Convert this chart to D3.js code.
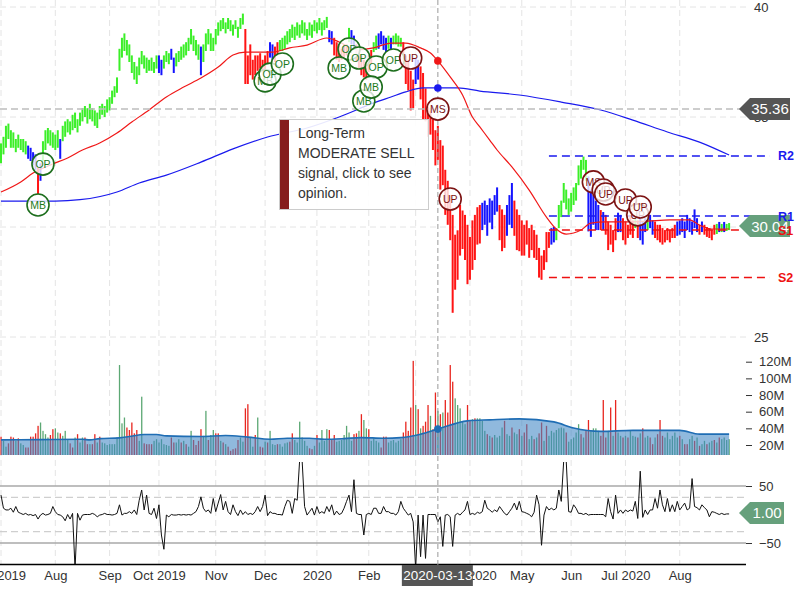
<!DOCTYPE html>
<html><head><meta charset="utf-8">
<script src="https://cdnjs.cloudflare.com/ajax/libs/d3/7.8.5/d3.min.js"></script>
<style>html,body{margin:0;padding:0;background:#fff;} svg{display:block;font-family:"Liberation Sans",Arial,sans-serif;}</style>
</head><body><svg id="c" width="800" height="600"></svg>
<script>
const startDate = "2019-07-01", endDate = "2020-08-31";
const holidays = ["2019-07-04","2019-09-02","2019-11-28","2019-12-25","2020-01-01","2020-01-20","2020-02-17","2020-04-10","2020-05-25","2020-07-03"];
const monthLabels = ["Jul 2019","Aug","Sep","Oct 2019","Nov","Dec","2020","Feb","Mar","Apr 2020","May","Jun","Jul 2020","Aug"];
const priceTicks = [25,30,35,40];
const volumeTicks = [20,40,60,80,100,120];
const oscTicks = [-50,50];

const priceHigh = [
33.8,34.1,34.6,34.7,34.4,34.3,34.0,34.2,34.0,34.0,
33.9,33.7,33.6,33.4,33.3,32.7,32.9,33.9,34.4,34.5,
34.4,34.3,34.2,34.4,34.0,34.6,34.8,34.9,34.8,35.1,
35.2,34.9,35.2,35.4,35.5,35.4,35.6,35.4,35.3,35.2,
35.5,35.6,35.5,35.8,35.9,36.2,36.4,36.8,38.1,38.6,
38.8,38.5,38.3,37.8,37.5,37.3,37.7,38.0,37.8,37.7,
37.6,37.7,37.5,37.8,37.8,37.6,37.8,38.0,37.9,38.1,
37.7,37.9,38.0,38.2,38.3,38.4,38.6,39.0,38.7,38.5,
38.3,38.2,38.3,38.8,39.0,38.8,38.6,39.0,39.3,39.4,
39.5,39.3,39.5,39.4,39.2,39.4,39.1,39.5,39.7,39.0,
37.8,38.3,37.6,37.8,37.8,37.9,37.6,37.8,38.0,38.4,
38.3,38.2,38.4,38.5,38.6,38.7,38.9,39.0,39.2,39.1,
39.3,39.2,39.4,39.3,39.0,39.3,39.2,39.4,39.3,39.5,
39.3,39.4,39.55,38.95,38.9,38.6,38.4,38.3,38.1,38.3,
38.3,39.05,38.95,38.7,38.3,38.05,37.8,37.6,37.5,37.8,
38.05,38.4,38.7,38.8,38.9,38.7,38.6,38.7,38.6,38.7,
38.8,38.7,38.6,38.4,37.8,37.6,37.1,36.7,37.7,37.6,
37.3,37.0,36.3,35.45,35.3,34.9,34.4,34.6,33.95,33.7,
32.6,32.1,31.45,30.55,29.65,29.85,31.0,30.75,30.55,30.1,
29.55,30.3,30.55,30.9,31.0,31.1,31.2,31.0,31.3,31.2,
31.45,31.8,31.0,30.8,30.55,31.0,31.45,32.0,31.2,30.8,
30.55,30.3,30.1,30.3,29.95,30.1,29.86,29.65,29.05,28.7,
28.95,29.77,29.77,29.95,30.0,29.95,31.0,31.2,32.0,31.7,
31.3,31.55,31.8,32.0,32.8,33.05,33.2,33.05,32.3,31.7,
31.45,31.2,31.0,30.77,30.68,30.55,30.25,30.1,29.86,30.4,
30.65,30.55,30.4,30.25,30.1,30.55,30.3,30.65,30.3,30.4,
30.25,30.4,30.55,30.55,30.3,30.25,30.1,30.1,29.95,29.86,
29.95,29.86,29.95,30.1,30.25,30.3,30.4,30.25,30.55,30.4,
30.25,30.8,30.4,30.1,30.25,30.1,30.0,29.95,29.86,30.1,
30.14,30.23,30.14,30.23,30.14,30.18];
const priceLow = [
32.9,33.3,33.6,34.0,33.6,33.6,33.4,33.6,33.5,33.4,
33.3,33.1,33.0,32.8,32.6,31.5,32.1,33.0,33.5,33.8,
33.7,33.6,33.5,33.6,33.1,33.9,34.1,34.3,34.2,34.4,
34.5,34.3,34.6,34.8,35.0,34.7,34.9,34.8,34.6,34.5,
34.9,35.1,35.0,35.2,35.3,35.6,35.9,36.1,37.1,37.7,
38.0,37.8,37.5,37.0,36.7,36.5,36.9,37.4,37.2,37.0,
37.1,37.1,37.0,37.2,37.0,36.9,37.2,37.5,37.4,37.6,
37.0,37.3,37.5,37.6,37.7,37.8,38.0,38.3,38.0,37.8,
37.6,36.9,37.5,38.0,38.3,38.0,38.0,38.3,38.7,38.9,
39.0,38.8,39.0,38.9,38.7,39.0,38.6,39.0,39.2,36.5,
36.5,36.9,36.7,36.9,37.1,37.2,36.9,37.1,37.4,37.7,
37.6,37.5,37.8,38.0,38.0,38.1,38.3,38.4,38.6,38.5,
38.7,38.6,38.8,38.7,38.5,38.7,38.6,38.9,38.8,38.95,
38.7,38.95,39.05,38.4,38.3,37.8,37.6,37.5,37.6,37.7,
37.8,38.4,38.3,38.1,37.5,37.2,36.9,36.8,36.7,37.05,
37.4,37.95,38.05,38.1,38.3,38.05,37.95,38.1,38.05,38.3,
38.3,38.2,38.2,37.4,36.5,36.2,35.3,35.4,36.5,36.7,
35.8,34.9,34.8,34.1,34.2,33.5,32.8,33.05,31.7,31.9,
30.55,30.1,29.4,26.1,27.15,27.6,28.7,29.0,28.5,27.4,
27.6,28.05,28.5,29.2,29.25,29.86,30.1,29.6,30.2,29.9,
30.55,30.7,29.4,28.9,29.05,29.6,30.1,29.95,29.6,28.95,
28.9,28.7,28.7,29.2,28.6,28.95,28.6,28.5,27.7,27.6,
28.05,28.4,29.05,29.2,29.3,29.4,29.95,30.45,31.1,30.8,
30.55,30.7,31.0,31.2,31.9,32.2,32.6,32.1,29.8,29.55,
30.1,29.86,29.86,29.86,29.86,29.65,28.95,29.2,28.86,29.4,
29.77,29.77,29.4,29.2,29.5,29.65,29.5,29.95,29.5,29.4,
29.2,29.77,29.86,29.95,29.65,29.5,29.4,29.3,29.2,29.3,
29.4,29.3,29.5,29.5,29.6,29.65,29.77,29.5,29.86,29.77,
29.65,29.95,29.77,29.65,29.77,29.65,29.55,29.5,29.4,29.65,
29.68,29.77,29.77,29.77,29.82,29.86];
const barColorRuns = [["g",11],["b",4],["r",1],["b",1],["g",7],["b",1],["g",39],["b",2],["g",3],["b",2],["g",10],["b",1],["g",17],["r",10],["b",2],["r",2],["g",20],["b",2],["r",6],["g",1],["b",2],["r",7],["g",2],["b",4],["g",1],["b",1],["g",4],["r",5],["b",2],["r",25],["b",7],["r",3],["b",3],["r",15],["b",2],["g",13],["b",5],["r",1],["b",1],["r",5],["b",2],["r",5],["g",1],["r",1],["b",3],["g",1],["b",2],["r",9],["b",9],["r",1],["b",1],["r",5],["g",1],["b",1],["g",1],["b",1],["g",2]];

const redMA = [[0,31.59],[8,32.05],[13,32.45],[20,32.82],[27,33.14],[33,33.5],[40,33.82],[47,34.27],[53,34.77],[60,35.32],[67,35.91],[74,36.36],[81,36.77],[88,37.27],[94,37.82],[99,37.95],[110,37.95],[117,38.14],[124,38.27],[132,38.59],[137,38.41],[144,38.05],[151,38.14],[158,38.36],[164,38.36],[170,38.14],[174,37.91],[177,37.55],[182,36.82],[187,36.0],[191,35.0],[194,34.55],[198,33.95],[201,33.5],[207,32.73],[214,31.68],[221,30.45],[225,29.91],[229,29.68],[235,29.86],[239,30.18],[245,30.23],[252,30.23],[262,30.27],[271,30.32],[279,30.32],[283,30.09],[288,29.91],[295,29.91]];
const blueMA = [[0,31.18],[22,31.18],[32,31.24],[47,31.59],[56,32.0],[67,32.36],[81,32.95],[94,33.55],[108,34.09],[124,34.5],[137,35.0],[151,35.64],[158,35.91],[164,36.14],[171,36.32],[177,36.32],[185,36.32],[194,36.18],[210,36.0],[227,35.68],[243,35.32],[256,34.86],[270,34.32],[283,33.86],[295,33.27]];

const volume = [
30,25,18,22,30,29,25,28,22,20,
17,17,30,30,34,43,47,37,33,29,
32,39,40,35,34,31,37,27,22,17,
29,33,23,29,29,21,21,21,33,23,
30,23,22,20,21,21,21,29,116,46,
53,41,38,47,34,38,25,78,22,21,
21,21,25,27,23,27,21,20,19,29,
23,23,27,23,25,21,18,37,26,20,
25,39,31,61,26,32,38,34,34,25,
23,21,18,13,15,16,26,29,24,64,
69,29,18,32,53,18,17,24,23,37,
21,20,21,21,18,22,23,24,34,26,
23,48,29,25,19,16,15,19,32,23,
38,25,39,38,26,32,24,25,26,32,
43,35,25,33,34,37,57,50,40,39,
25,28,25,23,17,30,30,23,25,26,23,25,
27,35,48,37,65,121,68,63,40,43,
48,68,55,39,83,61,57,59,74,59,
116,96,76,68,64,48,45,68,49,51,
52,52,52,49,37,33,31,29,32,29,
31,41,49,33,31,41,35,33,39,31,
35,45,27,31,27,29,34,47,25,43,
31,37,35,38,40,41,40,35,24,27,
29,35,45,33,29,37,50,37,40,40,
37,31,74,29,37,65,31,74,35,31,
29,31,29,37,31,30,29,34,40,29,
31,29,21,29,33,50,31,29,35,27,
31,35,29,31,27,21,21,27,31,25,
29,19,21,25,21,23,25,26,23,29,
27,29,26,27];
const volumeColor = "rggrrrgrgg"+"rrrrrrgggg"+"rrggrgggrr"+"grggrrgrrg"+"rggggggggg"+"grrrrrggrr"+"rrgggggggr"+"rggrgrggrr"+"rrggrggrrg"+"rgrrrrrggr"+"rggrgrrgrg"+"ggrggggrrg"+"gggggrrgrg"+"gggrrrgggg"+"gggrrgrggr"+"ggggrrrggggg"+"grrrrrgrgr"+"rrgrrgrgrr"+"rrgggggrrg"+"rggggrgrgg"+"ggrggrggrg"+"rrggrgrrgr"+"gggggggrgg"+"gggrgrrggg"+"grrrgrgrgg"+"rgrgggrgrg"+"grrgrrrggg"+"gggrgrrggr"+"grggrggrgr"+"gggg";
const volumeMA = [[0,26.1],[16,26.5],[33,26.9],[36,26.1],[40,27.7],[48,28.5],[52,30.2],[58,32.6],[63,32.6],[67,31.0],[81,30.2],[91,31.4],[100,29.4],[109,26.9],[116,28.1],[125,28.1],[131,26.9],[139,27.7],[146,28.9],[155,28.1],[162,28.9],[170,33.0],[177,39.1],[189,49.0],[198,50.2],[210,51.4],[224,47.8],[232,40.3],[243,36.3],[256,37.5],[275,37.5],[283,33.0],[295,33.0]];

const oscillator = [
34,11,8,8,11,4,14,4,2,0,
2,-1,0,-2,0,-8,-1,2,-1,0,
2,14,5,0,-1,-4,-11,0,-8,2,
-95,2,-10,-1,0,0,0,2,0,-4,
-1,0,2,0,0,-1,0,2,17,-1,
2,2,5,2,8,0,25,43,8,34,
2,0,11,-7,17,-36,-61,-1,-4,0,
-1,-1,0,-1,0,-1,0,-1,2,5,
14,31,11,5,8,2,28,5,20,35,
8,23,5,0,17,5,-2,8,0,5,
0,2,0,5,14,5,14,34,-2,5,
2,2,0,0,-1,14,25,23,2,28,
25,95,95,14,-1,5,11,-1,14,2,
5,2,14,5,17,-1,6,0,2,11,
23,34,5,61,2,0,0,-36,0,2,
0,11,11,2,2,14,5,5,2,2,-1,5,
23,11,5,-1,2,-13,-95,-1,-74,-1,
-77,0,0,0,0,-13,-4,-56,-1,0,
-4,-56,-1,2,-1,4,8,23,0,2,
0,4,2,5,25,11,8,4,8,5,
14,8,2,-1,5,11,20,8,23,5,
4,2,0,-4,4,34,17,-54,-1,14,
8,11,8,11,43,23,95,95,5,4,
17,11,2,2,0,2,-1,0,0,0,
0,0,0,-4,28,5,-8,34,2,8,
2,8,5,8,6,23,-7,76,-5,8,
0,8,8,28,11,43,17,5,28,5,
17,5,23,8,14,20,8,11,63,14,
12,8,17,12,8,-4,5,4,2,0,
2,0,1,1];

const markerIdx   = [15,17,107,109,114,141,137,145,152,147,150,159,166,177,182,240,244,245,253,258,259];
const markerPrice = [31.0,32.86,36.64,36.95,37.41,38.09,37.23,37.68,37.27,35.73,36.36,37.59,37.68,35.36,31.27,32.05,31.68,31.5,31.23,30.55,30.91];
const markerText  = ["MB","OP","MB","OP","OP","OP","MB","OP","OP","MB","MB","OP","UP","MS","UP","MS","UP","UP","UP","UP","UP"];

const levelNames = ["R2","R1","S1","S2"];
const levelValues = [33.23,30.5,29.86,27.7];
const levelStart = 222;
const lastPrice = 30.04, refPrice = 35.36, lastOsc = 1.00;
const crossIdx = 177;
const tooltipLines = ["Long-Term","MODERATE SELL","signal, click to see","opinion."];

// ---------- build ----------
const parse = d3.utcParse("%Y-%m-%d"), fmt = d3.utcFormat("%Y-%m-%d");
const days = d3.utcDays(parse(startDate), d3.utcDay.offset(parse(endDate),1))
  .filter(d => d.getUTCDay()%6 !== 0 && !holidays.includes(fmt(d)));
const N = priceHigh.length;
const monthStarts = days.map((d,i)=>i).filter(i => i===0 || days[i].getUTCMonth()!==days[i-1].getUTCMonth());

const barColors = [];
barColorRuns.forEach(([c,n]) => { for (let k=0;k<n;k++) barColors.push(c); });
const colBar = {g:"#3bef28", b:"#1414ff", r:"#ff1414"};

const svg = d3.select("#c");
const PR = 746;
const xs = d3.scaleLinear().domain([0,295]).range([1,729.1]);
const yp = d3.scaleLinear().domain([25,40]).range([337,7]);
const yv = d3.scaleLinear().domain([20,120]).range([445,361.7]);
const yo = d3.scaleLinear().domain([-50,50]).range([543,486]);

const defs = svg.append("defs");
defs.append("clipPath").attr("id","cp").append("rect").attr("x",0).attr("y",0).attr("width",PR).attr("height",342);
defs.append("clipPath").attr("id","cv").append("rect").attr("x",0).attr("y",342).attr("width",PR).attr("height",113);
defs.append("clipPath").attr("id","co").append("rect").attr("x",0).attr("y",462).attr("width",PR).attr("height",102);

// grid
const grid = svg.append("g");
grid.selectAll("line.v").data(monthStarts).join("line")
  .attr("x1",d=>xs(d)).attr("x2",d=>xs(d)).attr("y1",0).attr("y2",564)
  .attr("stroke","#e4e4e4").attr("stroke-dasharray","6,4");
grid.selectAll("line.h").data(priceTicks).join("line")
  .attr("x1",0).attr("x2",PR).attr("y1",d=>yp(d)).attr("y2",d=>yp(d))
  .attr("stroke","#e4e4e4").attr("stroke-dasharray","6,4");

const gp = svg.append("g").attr("clip-path","url(#cp)");
// reference price line
svg.append("line").attr("x1",0).attr("x2",740).attr("y1",yp(refPrice)).attr("y2",yp(refPrice))
  .attr("stroke","#bdbdbd").attr("stroke-width",1.5).attr("stroke-dasharray","7,4");

// price bars
gp.selectAll("rect.bar").data(d3.range(N)).join("rect")
  .attr("x",i=>xs(i)-1).attr("width",2)
  .attr("y",i=>yp(priceHigh[i]))
  .attr("height",i=>Math.max(1,yp(priceLow[i])-yp(priceHigh[i])))
  .attr("fill",i=>colBar[barColors[i]]);

// MAs
const lineP = d3.line().x(d=>xs(d[0])).y(d=>yp(d[1])).curve(d3.curveMonotoneX);
gp.append("path").attr("d",lineP(blueMA)).attr("fill","none").attr("stroke","#1a1aee").attr("stroke-width",1.2);
gp.append("path").attr("d",lineP(redMA)).attr("fill","none").attr("stroke","#f01818").attr("stroke-width",1.2);

// level lines
const levelColor = ["#1a1aee","#1a1aee","#ee1111","#ee1111"];
svg.selectAll("line.lvl").data(levelValues).join("line")
  .attr("x1",xs(levelStart)).attr("x2",770).attr("y1",d=>yp(d)).attr("y2",d=>yp(d))
  .attr("stroke",(d,k)=>levelColor[k]).attr("stroke-width",1.5).attr("stroke-dasharray","8,5");

// volume
const gv = svg.append("g").attr("clip-path","url(#cv)");
gv.selectAll("rect.vol").data(d3.range(N)).join("rect")
  .attr("x",i=>xs(i)-0.6).attr("width",1.3)
  .attr("y",i=>yv(volume[i])).attr("height",i=>460-yv(volume[i]))
  .attr("fill",i=>volumeColor[i]==="g"?"#5ca874":"#e8261f");
const areaV = d3.area().x(d=>xs(d[0])).y0(460).y1(d=>yv(d[1])).curve(d3.curveMonotoneX);
gv.append("path").attr("d",areaV(volumeMA)).attr("fill","#3f86c4").attr("fill-opacity",0.58);
gv.append("path").attr("d",d3.line().x(d=>xs(d[0])).y(d=>yv(d[1])).curve(d3.curveMonotoneX)(volumeMA))
  .attr("fill","none").attr("stroke","#1f6db4").attr("stroke-width",1.6);

// oscillator
const go = svg.append("g");
go.selectAll("line.os").data(oscTicks).join("line")
  .attr("x1",0).attr("x2",PR).attr("y1",d=>yo(d)).attr("y2",d=>yo(d))
  .attr("stroke","#a8a8a8").attr("stroke-width",1.5);
go.selectAll("line.od").data([-30,30]).join("line")
  .attr("x1",0).attr("x2",PR).attr("y1",d=>yo(d)).attr("y2",d=>yo(d))
  .attr("stroke","#cfcfcf").attr("stroke-width",1.2).attr("stroke-dasharray","7,4");
go.append("path").attr("clip-path","url(#co)")
  .attr("d",d3.line().x((d,i)=>xs(i)).y(d=>yo(d))(oscillator))
  .attr("fill","none").attr("stroke","#111").attr("stroke-width",1);
svg.append("line").attr("x1",0).attr("x2",PR).attr("y1",564.5).attr("y2",564.5).attr("stroke","#000").attr("stroke-width",1.3);

// crosshair
const cx = xs(crossIdx);
svg.append("line").attr("x1",cx).attr("x2",cx).attr("y1",0).attr("y2",566)
  .attr("stroke","#9a9a9a").attr("stroke-dasharray","5,3");
const interp = (arr,i) => { for (let k=1;k<arr.length;k++) if (arr[k][0]>=i) { const a=arr[k-1],b=arr[k]; return a[1]+(b[1]-a[1])*(i-a[0])/(b[0]-a[0]); } return arr[arr.length-1][1]; };
svg.append("circle").attr("cx",cx).attr("cy",yp(interp(redMA,crossIdx))).attr("r",3.8).attr("fill","#f01818");
svg.append("circle").attr("cx",cx).attr("cy",yp(interp(blueMA,crossIdx))).attr("r",3.8).attr("fill","#1a1aee");
svg.append("circle").attr("cx",cx).attr("cy",yv(interp(volumeMA,crossIdx))).attr("r",3.8).attr("fill","#1f6db4");

// markers
const mg = svg.append("g");
markerIdx.forEach((mi,k) => {
  const t = markerText[k];
  const green = (t==="OP"||t==="MB");
  const col = green ? "#1d6e1d" : "#7c1313";
  const g = mg.append("g").attr("transform",`translate(${xs(mi)},${yp(markerPrice[k])})`);
  g.append("circle").attr("r",11).attr("fill","#fff").attr("fill-opacity",0.78).attr("stroke",col).attr("stroke-width",1.6);
  g.append("text").attr("text-anchor","middle").attr("dy","0.36em").attr("font-size",10.5)
    .attr("fill",green?"#1c7a1c":"#7c1313").text(t);
});

// axes
const ax = svg.append("g").attr("transform","translate(0,565)")
  .call(d3.axisBottom(xs).tickValues(monthStarts).tickFormat((d,k)=>monthLabels[k]).tickSize(0).tickPadding(6));
ax.select(".domain").remove();
ax.selectAll("text").attr("font-size",13).attr("fill","#333").attr("font-family","Liberation Sans, Arial, sans-serif");

const ay = svg.append("g").attr("transform","translate(750,0)")
  .call(d3.axisRight(yp).tickValues(priceTicks).tickSize(0).tickPadding(4));
ay.select(".domain").remove();
ay.selectAll("text").attr("font-size",13).attr("fill","#333").attr("font-family","Liberation Sans, Arial, sans-serif");

const avx = svg.append("g").attr("transform","translate(746,0)")
  .call(d3.axisRight(yv).tickValues(volumeTicks).tickFormat(d=>d+"M").tickSize(6).tickPadding(7));
avx.select(".domain").remove();
avx.selectAll("line").attr("stroke","#333");
avx.selectAll("text").attr("font-size",13).attr("fill","#333").attr("font-family","Liberation Sans, Arial, sans-serif");

const aox = svg.append("g").attr("transform","translate(746,0)")
  .call(d3.axisRight(yo).tickValues(oscTicks).tickSize(6).tickPadding(7));
aox.select(".domain").remove();
aox.selectAll("line").attr("stroke","#333");
aox.selectAll("text").attr("font-size",13).attr("fill","#333").attr("font-family","Liberation Sans, Arial, sans-serif");

// date label box
svg.append("rect").attr("x",cx-36).attr("y",565).attr("width",71).attr("height",21).attr("fill","#555");
svg.append("text").attr("x",cx).attr("y",580).attr("text-anchor","middle").attr("fill","#fff").attr("font-size",13.5).text(fmt(days[crossIdx]));

// tooltip
const tt = svg.append("g");
tt.append("rect").attr("x",279.5).attr("y",119.5).attr("width",149).attr("height",90)
  .attr("fill","#fff").attr("fill-opacity",0.9).attr("stroke","#cccccc");
tt.append("rect").attr("x",280).attr("y",120).attr("width",9).attr("height",89).attr("fill","#861c1c");
tt.selectAll("text").data(tooltipLines).join("text")
  .attr("x",298).attr("y",(d,k)=>138+k*20).attr("font-size",14).attr("fill","#333").text(d=>d);

// right value labels
function tag(y, w, color, txt, fs) {
  const x0 = 739, h = 11;
  svg.append("path").attr("d",`M${x0},${y} L${x0+11},${y-h} L${x0+w},${y-h} L${x0+w},${y+h} L${x0+11},${y+h} Z`).attr("fill",color);
  svg.append("text").attr("x",x0+11+(w-11)/2).attr("y",y).attr("dy","0.36em").attr("text-anchor","middle")
    .attr("fill","#fff").attr("font-size",fs).text(txt);
}
tag(yp(refPrice), 51, "#555555", refPrice.toFixed(2), 15);
tag(yp(lastPrice), 51, "#66a07c", lastPrice.toFixed(2), 15);
tag(yo(lastOsc)-1, 45, "#66a07c", lastOsc.toFixed(2), 15);

svg.selectAll("text.lvl").data(levelValues).join("text")
  .attr("x",778).attr("y",d=>yp(d)).attr("dy","0.36em")
  .attr("font-size",12.5).attr("font-weight","bold")
  .attr("fill",(d,k)=>levelColor[k]).text((d,k)=>levelNames[k]);
</script></body></html>
